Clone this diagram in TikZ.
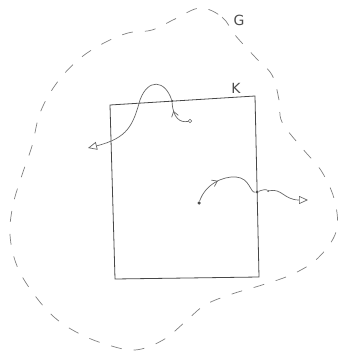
\documentclass[tikz,border=0pt]{standalone}
\usepackage{fontspec}
\setmainfont{DejaVu Sans}
\usetikzlibrary{arrows.meta,decorations.markings}
\begin{document}
\begin{tikzpicture}[x=1pt,y=-1pt,
  pencil/.style={draw=black!72,line width=0.8pt},
  flow/.style={draw=black!60,line width=0.7pt},
  blob/.style={draw=black!50,line width=0.7pt,dash pattern=on 11pt off 12pt},
  lbl/.style={text=black!70,font=\fontsize{14}{14}\selectfont,inner sep=0pt},
  dotnode/.style={circle,fill=black!70,inner sep=0pt,minimum size=3pt},
  smallring/.style={circle,draw=black!60,line width=0.6pt,inner sep=0pt,minimum size=3.5pt},
  midarrow/.style={postaction={decorate},decoration={markings,mark=at position #1 with {\arrow{Straight Barb[length=5pt,width=7pt]}}}}
]
\useasboundingbox (0,0) rectangle (341,353);
% outer region G
\draw[blob] plot[smooth cycle,tension=0.6] coordinates {
 (200,8) (222,17) (235,35) (255,57) (272,75) (279,100) (282,122) (302,148) (322,172)
 (335,202) (336,232) (318,258) (293,274) (262,285) (232,294) (205,305) (185,322)
 (163,340) (135,350) (105,344) (78,333) (54,317) (33,293) (17,266) (10,235)
 (13,205) (22,175) (32,146) (40,113) (56,84) (78,60) (102,44) (128,33) (152,30) (175,19)};
% compact set K
\coordinate (tl) at (110,105);
\coordinate (tr) at (255,96);
\coordinate (br) at (259,277);
\coordinate (bl) at (115,279);
\draw[pencil] (tl) -- (tr) -- (br) -- (bl) -- cycle;
\node[lbl] (K) at (236,88) {K};
\node[lbl] (G) at (239,20) {G};
% curve 1
\node[smallring] (s1) at (190,121) {};
\node[dotnode,minimum size=2.5pt] (c1) at (172,101) {};
\coordinate (e1) at (88,148);
\draw[flow,midarrow=0.7] (s1) .. controls (180,123) and (173,118) .. (c1);
\draw[flow,-{Triangle[open,length=9pt,width=8pt]}] (c1) .. controls (165,80) and (148,78) .. (140,100)
  .. controls (133,125) and (128,138) .. (e1);
% curve 2
\node[dotnode,minimum size=3.5pt] (s2) at (199,203) {};
\node[dotnode,minimum size=3pt] (c2) at (257,192) {};
\node[dotnode,minimum size=2pt] (d2) at (268,191) {};
\coordinate (e2) at (308,200);
\draw[flow,midarrow=0.6] (s2) .. controls (205,185) and (222,176) .. (236,177);
\draw[flow] (236,177) .. controls (250,178) and (250,193) .. (c2);
\draw[flow,-{Triangle[open,length=9pt,width=8pt]}] (c2) .. controls (262,190) and (266,189) .. (d2)
  .. controls (282,188) and (284,200) .. (e2);
\end{tikzpicture}
\end{document}
